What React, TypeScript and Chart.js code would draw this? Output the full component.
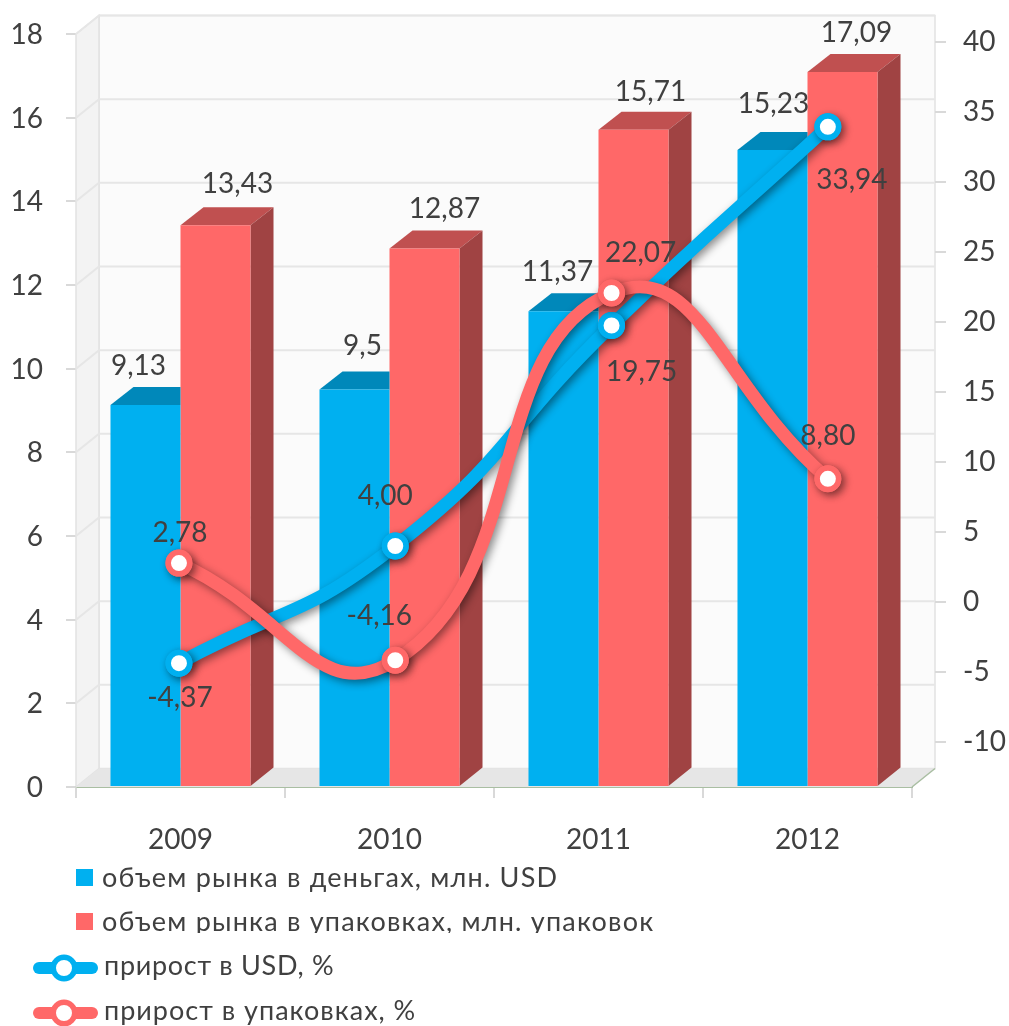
import React, { useEffect, useRef } from "react";
import { Chart, registerables } from "chart.js";

Chart.register(...registerables);

const categories = ["2009", "2010", "2011", "2012"];
const marketUsd = [9.13, 9.5, 11.37, 15.23];
const marketPacks = [13.43, 12.87, 15.71, 17.09];
const growthUsd = [-4.37, 4.0, 19.75, 33.94];
const growthPacks = [2.78, -4.16, 22.07, 8.8];

const marketUsdLabels = ["9,13", "9,5", "11,37", "15,23"];
const marketPacksLabels = ["13,43", "12,87", "15,71", "17,09"];
const growthUsdLabels = ["-4,37", "4,00", "19,75", "33,94"];
const growthPacksLabels = ["2,78", "-4,16", "22,07", "8,80"];

const seriesNames = [
  "объем рынка в деньгах, млн. USD",
  "объем рынка в упаковках, млн. упаковок",
  "прирост в USD, %",
  "прирост в упаковках, %",
];

// label offsets from each mark's anchor
const usdBarOffsets = [[-7, -39], [8, -44], [-6, -39], [1, -46]];
const packBarOffsets = [[22, -41], [20, -40], [17, -38], [14, -39]];
const usdLineOffsets = [[1, 35], [-10, -50], [30, 46], [24, 53]];
const packLineOffsets = [[1, -30], [-16, -44], [29, -40], [0, -43]];

const BLUE = "#00B0F0";
const RED = "#FF6868";
const BLUE_TOP = "#0088BA";
const RED_TOP = "#C05050";
const RED_SIDE = "#A04343";
const TEXT = "#404040";
const FONT = "Lato, Carlito, 'Open Sans', sans-serif";
const DX = 23;
const DY = 18.5;

function poly(ctx: CanvasRenderingContext2D, pts: number[][], fill?: string, stroke?: string) {
  ctx.beginPath();
  pts.forEach((p, i) => (i ? ctx.lineTo(p[0], p[1]) : ctx.moveTo(p[0], p[1])));
  ctx.closePath();
  if (fill) {
    ctx.fillStyle = fill;
    ctx.fill();
  }
  if (stroke) {
    ctx.strokeStyle = stroke;
    ctx.lineWidth = 1.5;
    ctx.stroke();
  }
}

const wallsPlugin = {
  id: "walls",
  afterDatasetUpdate(chart: any, args: any) {
    // the line series sit on the 3D chart's back plane, spaced by the hidden x2 scale
    const meta = chart.getDatasetMeta(args.index);
    if (meta.type !== "line") return;
    meta.data.forEach((pt: any, i: number) => {
      pt.x = chart.scales.x2.getPixelForValue(i);
    });
  },
  beforeDatasetsDraw(chart: any) {
    const { ctx, chartArea: a, scales } = chart;
    const L = a.left, R = a.right, T = a.top, B = a.bottom;
    ctx.save();
    poly(ctx, [[L + DX, T - DY], [R + DX, T - DY], [R + DX, B - DY], [L + DX, B - DY]], "#FBFBFB", "#E2E2E2");
    poly(ctx, [[L, T], [L + DX, T - DY], [L + DX, B - DY], [L, B]], "#F3F3F3", "#E2E2E2");
    poly(ctx, [[L, B], [L + DX, B - DY], [R + DX, B - DY], [R, B]], "#E6E6E6");
    ctx.strokeStyle = "#E6E6E6";
    ctx.lineWidth = 2;
    scales.y.ticks.forEach((t: any) => {
      if (t.value === 0) return;
      const y = scales.y.getPixelForValue(t.value);
      ctx.beginPath();
      ctx.moveTo(L, y);
      ctx.lineTo(L + DX, y - DY);
      ctx.lineTo(R + DX, y - DY);
      ctx.stroke();
    });
    ctx.strokeStyle = "#D9D9D9";
    scales.y1.ticks.forEach((t: any) => {
      const y = scales.y1.getPixelForValue(t.value);
      ctx.beginPath();
      ctx.moveTo(R + DX, y);
      ctx.lineTo(R + DX + 11, y);
      ctx.stroke();
    });
    ctx.strokeStyle = "#A9BEA2";
    ctx.lineWidth = 1.5;
    ctx.beginPath();
    ctx.moveTo(R, B);
    ctx.lineTo(R + DX, B - DY);
    ctx.stroke();
    ctx.restore();
  },
  beforeDatasetDraw(chart: any, args: any) {
    const { ctx } = chart;
    const ds = chart.data.datasets[args.index];
    ctx.save();
    if (ds.type === "bar") {
      chart.getDatasetMeta(args.index).data.forEach((b: any) => {
        const l = b.x - b.width / 2, r = b.x + b.width / 2;
        if (args.index === 0) {
          // the taller neighbouring bar hides this bar's side and the far end of its top
          poly(ctx, [[l, b.y], [l + DX, b.y - 18], [r, b.y - 18], [r, b.y]], BLUE_TOP);
        } else {
          poly(ctx, [[l, b.y], [l + DX, b.y - 18], [r + DX, b.y - 18], [r, b.y]], RED_TOP);
          poly(ctx, [[r, b.y], [r + DX, b.y - 18], [r + DX, b.base - DY], [r, b.base]], RED_SIDE);
        }
      });
    } else {
      ctx.shadowColor = "rgba(0,0,0,0.45)";
      ctx.shadowBlur = 9;
      ctx.shadowOffsetX = 3;
      ctx.shadowOffsetY = 3;
    }
  },
  afterDatasetDraw(chart: any, args: any) {
    chart.ctx.restore();
    const meta = chart.getDatasetMeta(args.index);
    if (meta.type === "line") {
      // repaint the markers without shadow so their centres stay white
      meta.data.forEach((pt: any) => pt.draw(chart.ctx, chart.chartArea));
    }
  },
  afterDatasetsDraw(chart: any) {
    const { ctx } = chart;
    const sets: [number, string[], number[][]][] = [
      [0, marketUsdLabels, usdBarOffsets],
      [1, marketPacksLabels, packBarOffsets],
      [2, growthUsdLabels, usdLineOffsets],
      [3, growthPacksLabels, packLineOffsets],
    ];
    ctx.save();
    ctx.font = `28px ${FONT}`;
    ctx.fillStyle = TEXT;
    ctx.textAlign = "center";
    ctx.textBaseline = "middle";
    sets.forEach(([idx, labels, offs]) => {
      chart.getDatasetMeta(idx).data.forEach((el: any, i: number) => {
        ctx.fillText(labels[i], el.x + offs[i][0], el.y + offs[i][1]);
      });
    });
    // legend
    ctx.textAlign = "left";
    ctx.font = `27px ${FONT}`;
    const rows = [878, 922, 966, 1011];
    [BLUE, RED].forEach((c, i) => {
      ctx.fillStyle = c;
      ctx.fillRect(76, rows[i] - 9, 17, 17);
      ctx.save();
      ctx.beginPath();
      ctx.rect(95, rows[i] - 22, 700, i === 1 ? 33 : 44);
      ctx.clip();
      ctx.fillStyle = TEXT;
      (ctx as any).letterSpacing = "1.2px";
      ctx.fillText(seriesNames[i], 102, rows[i]);
      ctx.restore();
    });
    [BLUE, RED].forEach((c, i) => {
      const y = rows[i + 2] + 2;
      ctx.strokeStyle = c;
      ctx.lineWidth = 12;
      ctx.lineCap = "round";
      ctx.beginPath();
      ctx.moveTo(39, y);
      ctx.lineTo(92, y);
      ctx.stroke();
      ctx.beginPath();
      ctx.arc(64, y, 10.75, 0, Math.PI * 2);
      ctx.fillStyle = "#fff";
      ctx.fill();
      ctx.lineWidth = 5.5;
      ctx.stroke();
      ctx.save();
      ctx.fillStyle = TEXT;
      (ctx as any).letterSpacing = i === 0 ? "0.7px" : "1px";
      ctx.fillText(seriesNames[i + 2], 104, rows[i + 2]);
      ctx.restore();
    });
    ctx.restore();
  },
};

const lineDataset = (label: string, values: number[], color: string, order: number) => ({
  type: "line",
  label,
  data: values,
  yAxisID: "y1",
  borderColor: color,
  borderWidth: 13,
  tension: 0.5,
  capBezierPoints: false,
  pointRadius: 10.75,
  pointBorderWidth: 5.5,
  pointBackgroundColor: "#FFFFFF",
  pointBorderColor: color,
  order,
  clip: false,
});

export default function App() {
  const ref = useRef<HTMLCanvasElement>(null);
  useEffect(() => {
    const chart = new Chart(ref.current as HTMLCanvasElement, {
      data: {
        labels: categories,
        datasets: [
          { type: "bar", label: seriesNames[0], data: marketUsd, backgroundColor: BLUE, yAxisID: "y", order: 3, categoryPercentage: 0.67, barPercentage: 1 },
          { type: "bar", label: seriesNames[1], data: marketPacks, backgroundColor: RED, yAxisID: "y", order: 4, categoryPercentage: 0.67, barPercentage: 1 },
          lineDataset(seriesNames[2], growthUsd, BLUE, 2),
          lineDataset(seriesNames[3], growthPacks, RED, 1),
        ] as any,
      },
      options: {
        animation: false,
        responsive: false,
        layout: { autoPadding: false, padding: { top: 34, left: 0, right: 0, bottom: 0 } },
        plugins: { legend: { display: false }, title: { display: false }, tooltip: { enabled: false } },
        scales: {
          x: {
            type: "category",
            position: "bottom",
            afterFit: (s: any) => { s.height = 239; },
            border: { color: "#A9BEA2", width: 2 },
            grid: { offset: true, drawOnChartArea: false, drawTicks: true, tickLength: 11, color: "#D9D9D9", lineWidth: 2 },
            ticks: { color: TEXT, font: { family: FONT, size: 28 }, padding: 25, maxRotation: 0, autoSkip: false },
          },
          x2: { type: "linear", display: false, min: -0.476, max: 3.389 },
          y: {
            position: "left",
            min: 0,
            max: 18,
            afterFit: (s: any) => { s.width = 76; s.paddingTop = 0; s.paddingBottom = 0; },
            border: { display: false },
            grid: { drawOnChartArea: false, drawTicks: true, tickLength: 10, color: "#D9D9D9", lineWidth: 2 },
            ticks: { stepSize: 2, color: TEXT, font: { family: FONT, size: 28 }, padding: 23, labelOffset: 1 },
          },
          y1: {
            position: "right",
            min: -13.214,
            max: 40.571,
            afterFit: (s: any) => { s.width = 97; s.paddingTop = 0; s.paddingBottom = 0; },
            afterBuildTicks: (s: any) => {
              s.ticks = s.ticks.filter((t: any) => t.value % 5 === 0);
            },
            border: { display: false },
            grid: { display: false, drawTicks: false },
            ticks: { stepSize: 5, includeBounds: false, color: TEXT, font: { family: FONT, size: 28 }, padding: 51 },
          },
        },
      } as any,
      plugins: [wallsPlugin],
    } as any);
    return () => chart.destroy();
  }, []);
  return (
    <div style={{ position: "absolute", left: 0, top: 0, width: 1009, height: 1026, background: "#fff" }}>
      <canvas ref={ref} width={1009} height={1026} />
    </div>
  );
}
